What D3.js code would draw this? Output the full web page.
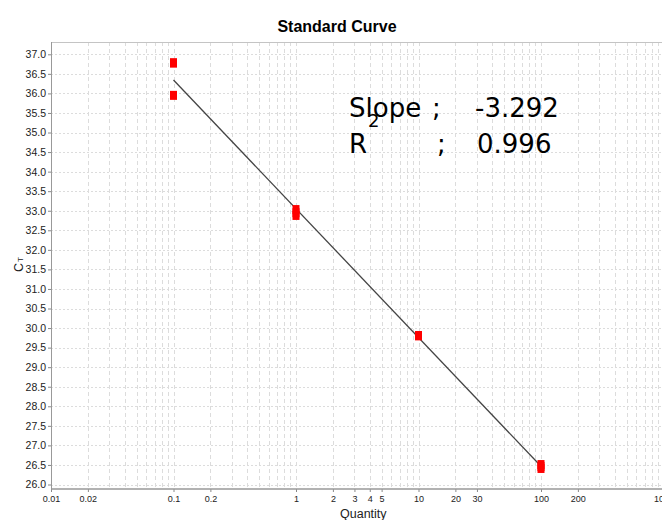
<!DOCTYPE html>
<html lang="en">

<head>
    <meta charset="UTF-8">
    <script src="https://d3js.org/d3.v7.min.js"></script>
    <style>
        body {
            margin: 0;
            background: #fff;
        }

        .tick-label {
            font-family: "Liberation Sans Narrow", "Arial Narrow", "Liberation Sans", sans-serif;
            fill: #222;
        }

        .grid line {
            stroke: #dcdcdc;
            stroke-width: 1;
            shape-rendering: crispEdges;
        }

        .grid.vert line {
            stroke-dasharray: 4, 3;
        }

        .grid.horiz line {
            stroke-dasharray: 2, 2;
        }
    </style>
</head>

<body>
    <svg id="canvas" width="662" height="520"></svg>

    <script>
        // data
        const quantities = [0.1, 0.1, 0.1, 1, 1, 1, 10, 10, 10, 100, 100, 100];
        const ctValues = [36.78, 36.78, 35.95, 33.03, 32.95, 32.88, 29.81, 29.80, 29.81, 26.51, 26.46, 26.41];
        const xTickLabels = [0.01, 0.02, 0.1, 0.2, 1, 2, 3, 4, 5, 10, 20, 30, 100, 200, 1000];
        const yTickLabels = [26.0, 26.5, 27.0, 27.5, 28.0, 28.5, 29.0, 29.5, 30.0, 30.5, 31.0, 31.5,
            32.0, 32.5, 33.0, 33.5, 34.0, 34.5, 35.0, 35.5, 36.0, 36.5, 37.0];
        const fitSlope = -3.292;
        const fitIntercept = 33.05;
        const fitR2 = 0.996;

        let svg = d3.select("#canvas");

        let plotLeft = 51, plotTop = 42, plotBottom = 489, plotRight = 680;

        const xScale = d3.scaleLog().domain([0.01, 1000]).range([51, 663.5]);
        const yScale = d3.scaleLinear().domain([26, 37]).range([484.5, 54.3]);

        // vertical grid: every 1..9 step in each decade
        let xGridValues = [];
        [0.01, 0.1, 1, 10, 100].forEach(dec => {
            for (let i = 1; i <= 9; i++) xGridValues.push(dec * i);
        });
        xGridValues.push(1000);

        svg.append("g")
            .attr("class", "grid vert")
            .selectAll("line")
            .data(xGridValues)
            .join("line")
            .attr("x1", d => Math.round(xScale(d)) + 0.5)
            .attr("x2", d => Math.round(xScale(d)) + 0.5)
            .attr("y1", plotTop)
            .attr("y2", plotBottom);

        svg.append("g")
            .attr("class", "grid horiz")
            .selectAll("line")
            .data(yTickLabels)
            .join("line")
            .attr("x1", plotLeft)
            .attr("x2", plotRight)
            .attr("y1", d => Math.round(yScale(d)) + 0.5)
            .attr("y2", d => Math.round(yScale(d)) + 0.5);

        // frame
        svg.append("line")
            .attr("x1", plotLeft).attr("x2", plotRight)
            .attr("y1", plotTop + 0.5).attr("y2", plotTop + 0.5)
            .attr("stroke", "#c4c4c4");

        // axes
        let yAxis = d3.axisLeft(yScale)
            .tickValues(yTickLabels)
            .tickFormat(d3.format(".1f"))
            .tickSize(3)
            .tickPadding(2);

        let yG = svg.append("g")
            .attr("transform", `translate(${plotLeft}, 0)`)
            .call(yAxis);
        yG.select(".domain").remove();
        yG.selectAll(".tick line").attr("stroke", "#888");
        yG.selectAll(".tick text")
            .attr("class", "tick-label")
            .style("font-size", "10.5px");

        let xAxis = d3.axisBottom(xScale)
            .tickValues(xTickLabels)
            .tickFormat(d => String(d))
            .tickSize(3)
            .tickPadding(4);

        let xG = svg.append("g")
            .attr("transform", `translate(0, ${plotBottom})`)
            .call(xAxis);
        xG.select(".domain").remove();
        xG.selectAll(".tick line").attr("stroke", "#888");
        xG.selectAll(".tick text")
            .attr("class", "tick-label")
            .style("font-size", "9px");

        svg.append("line")
            .attr("x1", plotLeft + 0.5).attr("x2", plotLeft + 0.5)
            .attr("y1", plotTop).attr("y2", plotBottom)
            .attr("stroke", "#999");
        svg.append("line")
            .attr("x1", plotLeft).attr("x2", plotRight)
            .attr("y1", plotBottom).attr("y2", plotBottom)
            .attr("stroke", "#999")
            .attr("stroke-width", 1.5);

        // regression line across the measured range
        let qExtent = d3.extent(quantities);
        let lineGenerator = d3.line()
            .x(d => xScale(d))
            .y(d => yScale(fitIntercept + fitSlope * Math.log10(d)));

        svg.append("path")
            .attr("d", lineGenerator(qExtent))
            .attr("fill", "none")
            .attr("stroke", "#444")
            .attr("stroke-width", 1.3);

        // points
        svg.append("g")
            .selectAll("rect")
            .data(quantities.map((q, i) => ({ q: q, ct: ctValues[i] })))
            .join("rect")
            .attr("x", d => xScale(d.q) - 3.5)
            .attr("y", d => yScale(d.ct) - 4.5)
            .attr("width", 7)
            .attr("height", 9)
            .attr("fill", "#ff0000");

        // title
        svg.append("text")
            .attr("x", 337)
            .attr("y", 32)
            .attr("text-anchor", "middle")
            .style("font-family", "'Liberation Sans', Arial, sans-serif")
            .style("font-weight", "bold")
            .style("font-size", "16px")
            .text("Standard Curve");

        // axis titles
        svg.append("text")
            .attr("class", "tick-label")
            .attr("x", 340)
            .attr("y", 518)
            .style("font-size", "12.5px")
            .text("Quantity");

        let yTitle = svg.append("text")
            .attr("class", "tick-label")
            .attr("transform", "translate(23, 272) rotate(-90)")
            .style("font-size", "12.5px");
        yTitle.append("tspan").text("C");
        yTitle.append("tspan").attr("dx", 1).style("font-size", "8px").text("T");

        // slope / r2 annotation
        let note = svg.append("g")
            .style("font-family", "'DejaVu Sans', Verdana, sans-serif")
            .style("font-size", "26px")
            .attr("fill", "#000");

        note.append("text").attr("x", 349).attr("y", 117).text("Slope");
        note.append("text").attr("x", 432).attr("y", 117).text(";");
        note.append("text").attr("x", 475).attr("y", 117).text(fitSlope.toFixed(3));
        note.append("text").attr("x", 349).attr("y", 153).text("R");
        note.append("text").attr("x", 368).attr("y", 127).style("font-size", "18px").text("2");
        note.append("text").attr("x", 437).attr("y", 153).text(";");
        note.append("text").attr("x", 477).attr("y", 153).text(fitR2.toFixed(3));
    </script>
</body>

</html>
